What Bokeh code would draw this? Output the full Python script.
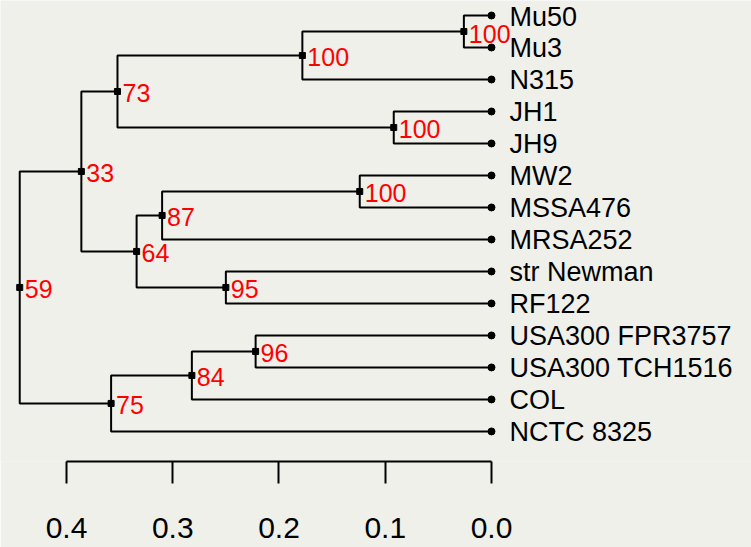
from bokeh.plotting import figure
from bokeh.models import Range1d, FixedTicker, ColumnDataSource, LinearAxis
from bokeh.core.properties import value
from bokeh.embed import file_html
from bokeh.resources import INLINE

# Leaves (top to bottom)
leaves = ["Mu50", "Mu3", "N315", "JH1", "JH9", "MW2", "MSSA476", "MRSA252",
          "str Newman", "RF122", "USA300 FPR3757", "USA300 TCH1516", "COL", "NCTC 8325"]

# Internal nodes: name, children, height (distance), bootstrap support
node_names = ["n1", "n2", "n3", "n4", "n5", "n6", "n7", "n8", "n9", "n10", "n11", "n12", "root"]
node_children = [
    ("Mu50", "Mu3"),
    ("n1", "N315"),
    ("JH1", "JH9"),
    ("n2", "n3"),
    ("MW2", "MSSA476"),
    ("n5", "MRSA252"),
    ("str Newman", "RF122"),
    ("n6", "n7"),
    ("n4", "n8"),
    ("USA300 FPR3757", "USA300 TCH1516"),
    ("n10", "COL"),
    ("n11", "NCTC 8325"),
    ("n9", "n12"),
]
node_heights = [0.026, 0.178, 0.092, 0.352, 0.124, 0.310, 0.250, 0.334, 0.386, 0.222, 0.282, 0.358, 0.444]
node_support = [100, 100, 100, 73, 100, 87, 95, 64, 33, 96, 84, 75, 59]

scale_ticks = [0.0, 0.1, 0.2, 0.3, 0.4]

# --- layout computation ---
xpos = {name: 0.0 for name in leaves}
ypos = {name: i for i, name in enumerate(leaves)}
for name, (a, b), h in zip(node_names, node_children, node_heights):
    xpos[name] = h
    ypos[name] = (ypos[a] + ypos[b]) / 2.0

xs, ys = [], []
for name, (a, b) in zip(node_names, node_children):
    xn = xpos[name]
    xs.append([xpos[a], xn, xn, xpos[b]])
    ys.append([ypos[a], ypos[a], ypos[b], ypos[b]])

p = figure(width=751, height=547, output_backend="svg", toolbar_location=None,
           x_range=Range1d(0.4621, -0.2447), y_range=Range1d(13.94, -0.469),
           x_axis_type=None, y_axis_type=None, min_border=0,
           min_border_bottom=86, min_border_left=0, min_border_right=0, min_border_top=0)
p.outline_line_color = None
p.grid.visible = False
p.background_fill_color = "#f0f0eb"
p.border_fill_color = "#f0f0eb"

p.multi_line(xs, ys, line_color="black", line_width=2)

# internal node markers
nsrc = ColumnDataSource(dict(x=[xpos[n] for n in node_names], y=[ypos[n] for n in node_names],
                             lab=[str(s) for s in node_support]))
p.scatter("x", "y", source=nsrc, marker="square", size=6, color="black")
p.text("x", "y", text="lab", source=nsrc, text_color="red", text_font=value("Liberation Sans"),
       text_font_size="25px", text_baseline="middle", text_align="left", x_offset=5, y_offset=2)

# leaf markers and labels
lsrc = ColumnDataSource(dict(x=[0.0] * len(leaves), y=list(range(len(leaves))), lab=leaves))
p.scatter("x", "y", source=lsrc, marker="circle", size=7, color="black")
p.text("x", "y", text="lab", source=lsrc, text_color="black", text_font=value("Liberation Sans"),
       text_font_size="27px", text_baseline="middle", text_align="left", x_offset=18, y_offset=1)

# scale bar axis
ax = LinearAxis(ticker=FixedTicker(ticks=scale_ticks), bounds=(0.0, 0.4))
ax.axis_line_color = "black"
ax.axis_line_width = 2
ax.major_tick_line_width = 2
ax.major_tick_in = 0
ax.major_tick_out = 22
ax.minor_tick_line_color = None
ax.major_label_standoff = 34
ax.major_label_text_font = "Liberation Sans"
ax.major_label_text_font_size = "30px"
ax.major_label_text_color = "black"
ax.major_label_overrides = {0.0: "0.0", 0.1: "0.1", 0.2: "0.2", 0.3: "0.3", 0.4: "0.4"}
p.add_layout(ax, "below")

open("out.html", "w").write(file_html(p, INLINE))
